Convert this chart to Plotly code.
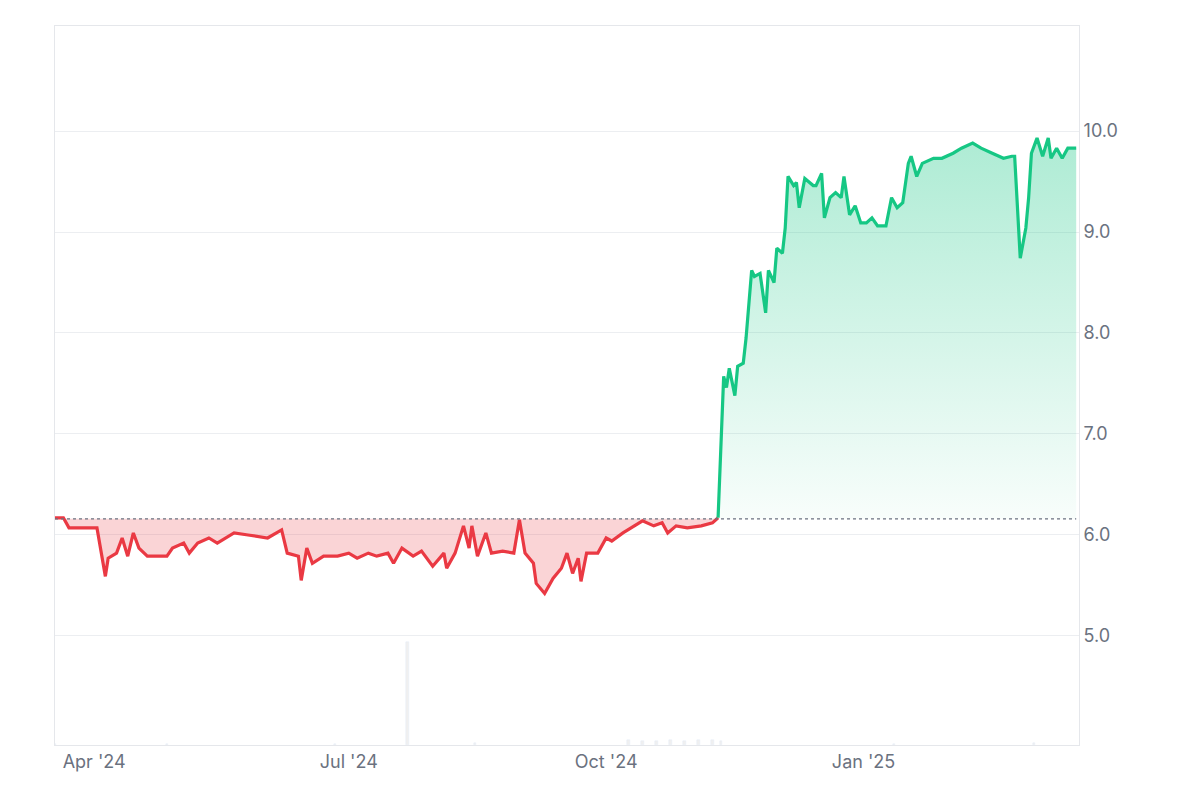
import pandas as pd
import plotly.graph_objects as go

START = pd.Timestamp("2024-03-18")
BASE = 6.16

red_days = [0,3,5,8,15,18,19,22,24,26,28,30,33,40,42,46,48,51,55,58,64,69,76,81,83,87,88,90,92,96,101,105,108,112,115,119,121,124,128,131,135,139,140,143,146,148,149,151,154,156,160,164,166,168,171,172,175,178,181,183,185,187,188,190,194,197,199,203,206,210,214,217,219,222,226,231,235,237]
red_vals = [6.17,6.17,6.07,6.07,6.07,5.59,5.77,5.82,5.97,5.79,6.02,5.87,5.79,5.79,5.87,5.92,5.82,5.92,5.97,5.92,6.02,6.0,5.97,6.05,5.82,5.79,5.55,5.87,5.72,5.79,5.79,5.82,5.77,5.82,5.79,5.82,5.72,5.87,5.79,5.84,5.69,5.82,5.67,5.82,6.09,5.87,6.09,5.79,6.02,5.82,5.84,5.82,6.15,5.82,5.72,5.52,5.42,5.57,5.67,5.82,5.62,5.77,5.54,5.82,5.82,5.97,5.94,6.02,6.07,6.14,6.09,6.12,6.02,6.09,6.07,6.09,6.12,6.17]

green_days = [237,239,240,241,243,244,246,247,249,250,252,254,255,257,258,260,261,262,264,265,266,268,271,272,274,275,277,279,281,282,284,286,288,290,292,294,297,299,301,303,305,306,308,310,314,317,321,324,328,331,335,339,342,343,345,347,348,349,351,353,355,356,358,360,362,365]
green_vals = [6.17,7.57,7.46,7.65,7.38,7.67,7.70,7.95,8.62,8.56,8.59,8.2,8.62,8.5,8.84,8.79,9.04,9.55,9.46,9.49,9.24,9.53,9.46,9.46,9.58,9.14,9.34,9.39,9.34,9.55,9.17,9.26,9.09,9.09,9.14,9.06,9.06,9.34,9.24,9.29,9.68,9.75,9.55,9.68,9.73,9.73,9.78,9.83,9.88,9.83,9.78,9.73,9.75,9.75,8.74,9.04,9.34,9.78,9.93,9.75,9.93,9.73,9.83,9.73,9.83,9.83]

vol_days = [0,40,100,126,150,205,210,215,220,225,230,235,238,300,350]
vol_vals = [0.01,0.01,0.01,1.0,0.02,0.05,0.04,0.04,0.05,0.04,0.05,0.05,0.04,0.01,0.02]

tick_dates = ["2024-04-01","2024-07-01","2024-10-01","2025-01-01"]
tick_text = ["Apr '24","Jul '24","Oct '24","Jan '25"]

def d(days):
    return [START + pd.Timedelta(days=int(x)) for x in days]

rx, gx = d(red_days), d(green_days)
fig = go.Figure()
fig.add_bar(x=d(vol_days), y=vol_vals, yaxis="y2", marker_color="rgba(0,0,0,0.06)", width=86400000*0.8, showlegend=False)
fig.add_scatter(x=rx, y=[BASE]*len(rx), mode="lines", line=dict(width=0), showlegend=False, hoverinfo="skip")
fig.add_scatter(x=rx, y=red_vals, mode="lines", fill="tonexty", fillcolor="rgba(234,57,67,0.22)",
                line=dict(color="#ea3943", width=3.2), showlegend=False)
fig.add_scatter(x=gx, y=[BASE]*len(gx), mode="lines", line=dict(width=0), showlegend=False, hoverinfo="skip")
fig.add_scatter(x=gx, y=green_vals, mode="lines", fill="tonexty",
                fillgradient=dict(type="vertical", colorscale=[[0, "rgba(22,199,132,0.03)"], [1, "rgba(22,199,132,0.35)"]]),
                line=dict(color="#16c784", width=3.2), showlegend=False)
fig.add_scatter(x=[rx[0], gx[-1]], y=[BASE, BASE], mode="lines", line=dict(color="#6b7280", width=1.2, dash="dot"), showlegend=False)

fig.update_layout(
    width=1200, height=800, plot_bgcolor="white", paper_bgcolor="white",
    margin=dict(l=47, r=129, t=18, b=63, autoexpand=False),
    font=dict(family="Inter, Roboto, sans-serif", color="#6b7280", size=18),
    xaxis=dict(range=[START, START + pd.Timedelta(days=366)], tickvals=tick_dates, ticktext=tick_text,
               showgrid=False, showline=True, linecolor="#e5e7eb", mirror=True, ticks="", zeroline=False),
    yaxis=dict(side="right", range=[3.92, 11.04], tickvals=[5,6,7,8,9,10], tickformat=".1f",
               gridcolor="#eceef1", showline=True, linecolor="#e5e7eb", mirror=True, zeroline=False, ticklen=0),
    yaxis2=dict(overlaying="y", range=[0, 7], visible=False),
    bargap=0,
)
fig.write_html("out.html")
